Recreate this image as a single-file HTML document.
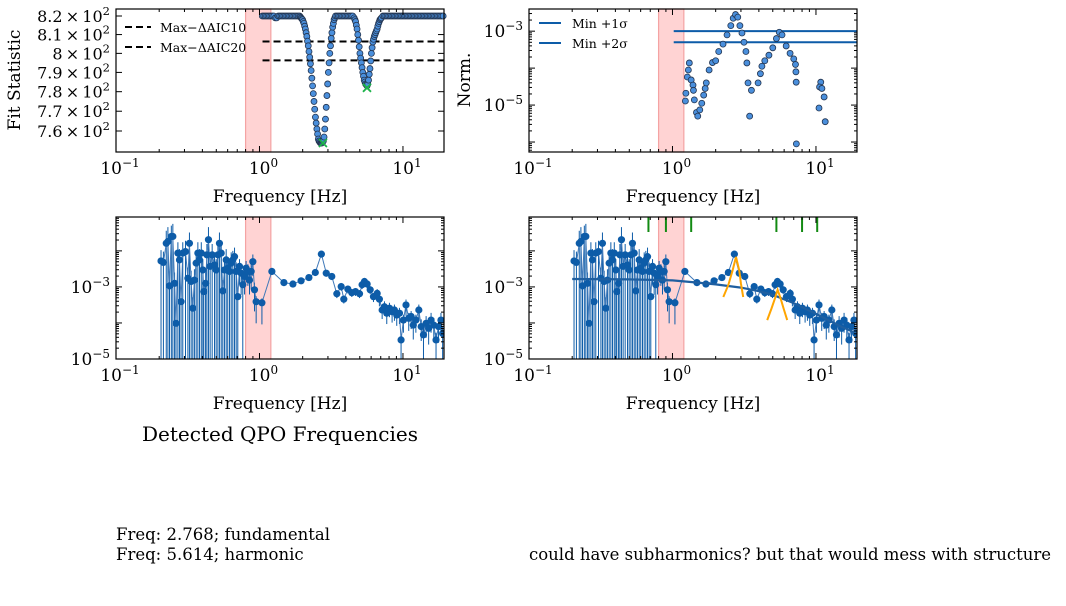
<!DOCTYPE html>
<html><head><meta charset="utf-8">
<style>
body{margin:0;background:#fff;width:1066px;height:602px;overflow:hidden;font-family:"DejaVu Serif","Liberation Serif",serif;}
svg text{font-family:"DejaVu Serif","Liberation Serif",serif;fill:#000;}
</style></head>
<body>
<svg id="fig" width="1066" height="602" viewBox="0 0 1066 602" xmlns="http://www.w3.org/2000/svg">
<text x="280" y="441" font-size="20" text-anchor="middle">Detected QPO Frequencies</text>
<text x="116" y="540" font-size="16.5">Freq: 2.768; fundamental</text>
<text x="116" y="560" font-size="16.5">Freq: 5.614; harmonic</text>
<text x="529" y="560" font-size="16.5">could have subharmonics? but that would mess with structure</text>
</svg>
<script>
// ---- Panel 1: fit statistic ----
const fitLogFreq=[0.02,0.03,0.04,0.05,0.06,0.07,0.08,0.09,0.10,0.11,0.12,0.13,0.14,0.15,0.16,0.17,0.18,0.19,0.20,0.21,0.22,0.23,0.24,0.25,0.26,0.27,
0.28,0.285,0.29,0.295,0.30,0.305,0.31,0.315,0.32,0.325,0.33,0.335,0.34,0.345,0.35,0.355,0.36,0.365,0.37,0.375,0.38,0.385,0.39,0.395,0.40,0.405,0.41,0.415,0.42,0.425,0.43,0.435,0.44,0.445,0.45,0.455,0.46,0.465,0.47,0.475,0.48,0.485,0.49,0.495,0.50,0.505,0.51,0.515,0.52,0.525,0.53,
0.54,0.55,0.56,0.57,0.58,0.59,0.60,0.61,0.62,0.63,0.64,0.65,
0.66,0.665,0.67,0.675,0.68,0.685,0.69,0.695,0.70,0.705,0.71,0.715,0.72,0.725,0.73,0.735,0.74,0.745,0.75,0.755,0.76,0.765,0.77,0.775,0.78,0.785,0.79,0.795,0.80,0.805,0.81,0.815,0.82,0.825,0.83,0.835,0.84,0.845,0.85,
0.86,0.87,0.88,0.89,0.90,0.91,0.92,0.93,0.94,0.95,0.96,0.97,0.98,0.99,1.00,1.01,1.02,1.03,1.04,1.05,1.06,1.07,1.08,1.09,1.10,1.11,1.12,1.13,1.14,1.15,1.16,1.17,1.18,1.19,1.20,1.21,1.22,1.23,1.24,1.25,1.26,1.27,1.28];
const fitValues=[820,820,820,820,820,820,820,820,820,819,819,820,820,820,820,820,820,820,820,820,820,820,820,820,820,820,
820,819.5,819,818.5,818,817,816,814.5,813,811,809,806.5,804,801,798,794.5,791,787,783,779,775,771,767,764,761,758.5,756,755,754.5,754,754,754,754.5,755,757,761,766,772,778,784,790,795,800,804,808,811,814,816,818,819,820,
820,820,820,820,820,820,820,820,820,820,820,820,
819,818,817,815,813,810,807,803.5,800,797.5,795,792.5,790,788,786,785,784,783.5,783,784,786,789,792,796,800,803,806,807.5,809,810,811,812,813,814.5,816,817,818,818.5,819,
820,820,820,820,820,820,820,820,820,820,820,820,820,820,820,820,820,820,820,820,820,820,820,820,820,820,820,820,820,820,820,820,820,820,820,820,820,820,820,820,820,820,820];
const fitMinFreq=[2.768,5.614];
const fitMinVal=[754,782];
const aicLevels=[806.3,796.3];
const fitTicks=[820,810,800,790,780,770,760];
const fitTickLabels=["8.2","8.1","8","7.9","7.8","7.7","7.6"];
// ---- Panel 2: normalised ----
const normFreq=[1.23,1.24,1.27,1.29,1.31,1.35,1.39,1.40,1.42,1.47,1.50,1.55,1.60,1.65,1.69,1.72,1.80,1.90,2.00,2.10,2.25,2.40,2.55,2.65,2.75,2.85,2.95,3.05,3.15,3.25,3.30,3.36,3.45,3.55,3.95,4.10,4.20,4.40,4.70,5.00,5.30,5.55,5.80,6.20,6.60,7.00,7.20,7.25,7.28,7.30,10.8,10.6,11.0,11.4,10.5,11.6];
const normValues=[-4.89,-4.68,-4.24,-4.05,-3.86,-4.32,-4.46,-4.60,-4.86,-5.20,-5.30,-5.13,-4.95,-4.73,-4.55,-4.40,-4.05,-3.85,-3.80,-3.55,-3.35,-3.10,-2.85,-2.65,-2.55,-2.62,-2.85,-3.05,-3.30,-3.55,-3.86,-4.40,-5.30,-4.60,-4.40,-4.15,-3.95,-3.80,-3.65,-3.45,-3.20,-3.03,-3.10,-3.40,-3.60,-3.75,-3.90,-4.10,-4.38,-6.05,-4.38,-4.51,-4.55,-4.78,-5.08,-5.45];
const sigmaLevels=[-3.0,-3.3];
// ---- Panels 3/4: power spectrum ----
const psFreq=[0.206,0.214,0.224,0.230,0.236,0.243,0.249,0.256,0.262,0.270,0.277,0.284,0.292,0.305,0.317,0.325,0.334,0.343,0.352,0.362,0.372,0.382,0.393,0.403,0.409,0.421,0.430,0.441,0.453,0.468,0.486,0.499,0.513,0.526,0.541,0.555,0.570,0.586,0.601,0.618,0.635,0.652,0.670,0.688,0.706,0.726,0.745,0.765,0.787,0.807,0.830,0.852,0.875,0.899,0.923,0.948,1.04,1.22,1.48,1.71,1.95,2.21,2.45,2.70,2.92,3.19,3.46,3.71,3.87,4.13,4.40,4.67,4.98,5.19,5.39,5.63,5.91,6.23,6.61,6.85,7.16,7.43,7.71,8.05,8.40,8.72,9.05,9.45,9.70,10.07,10.5,10.97,11.4,11.8,12.3,12.9,13.4,13.9,14.5,15.1,15.7,16.4,17.0,17.7,18.4,18.9];
const psValues=[-2.28,-2.32,-1.79,-1.74,-2.97,-1.60,-1.60,-2.90,-4.01,-2.06,-2.25,-3.41,-2.06,-2.02,-2.76,-1.79,-2.85,-3.59,-2.81,-2.34,-2.06,-2.25,-2.06,-2.53,-3.13,-2.90,-2.11,-1.69,-2.43,-2.11,-2.39,-2.53,-2.11,-1.79,-2.06,-3.11,-2.53,-2.25,-2.48,-2.57,-2.34,-2.25,-2.16,-2.57,-3.27,-2.43,-2.62,-2.94,-2.71,-2.48,-2.57,-2.81,-2.57,-2.30,-3.08,-3.41,-3.44,-2.57,-2.88,-2.92,-2.83,-2.74,-2.60,-2.09,-2.62,-2.71,-3.19,-2.99,-3.34,-3.06,-3.16,-3.13,-3.19,-2.94,-2.85,-2.92,-3.08,-3.27,-3.18,-3.34,-3.64,-3.55,-3.73,-3.59,-3.69,-3.64,-3.78,-3.73,-4.47,-3.92,-3.50,-3.87,-3.82,-4.06,-3.92,-3.64,-4.10,-4.33,-4.01,-4.15,-3.92,-4.06,-4.47,-4.10,-3.92,-4.29];
const psErrUp=[0.3,0.3,0.35,0.4,0.3,0.3,0.35,0.3,0.4,0.3,0.3,0.3,0.3,0.3,0.3,0.3,0.3,0.3,0.3,0.3,0.3,0.3,0.3,0.3,0.3,0.3,0.3,0.35,0.3,0.3,0.3,0.3,0.3,0.3,0.3,0.3,0.3,0.3,0.3,0.3,0.3,0.25,0.25,0.25,0.25,0.2,0.2,0.2,0.2,0.2,0.2,0.2,0.2,0.2,0.2,0.15,0.12,0.1,0.08,0.08,0.08,0.08,0.08,0.08,0.08,0.08,0.1,0.1,0.1,0.1,0.1,0.1,0.1,0.1,0.1,0.1,0.1,0.1,0.12,0.12,0.15,0.15,0.15,0.15,0.15,0.15,0.15,0.15,0.15,0.15,0.15,0.15,0.15,0.15,0.15,0.15,0.2,0.2,0.2,0.2,0.2,0.2,0.2,0.2,0.2,0.2];
const psErrLo=[9,9,9,9,9,9,9,9,9,9,9,9,9,9,9,9,9,9,9,9,9,9,9,9,9,9,9,9,9,9,9,9,9,9,9,9,9,9,9,9,9,9,9,9,9,0.5,0.6,9,0.5,0.4,0.4,0.4,0.5,0.4,0.6,0.6,0.6,0.1,0.08,0.08,0.08,0.08,0.08,0.08,0.08,0.08,0.12,0.12,0.12,0.12,0.12,0.12,0.12,0.12,0.12,0.12,0.12,0.15,0.15,0.2,0.25,0.25,0.3,0.25,0.3,0.3,0.3,0.3,9,0.35,0.3,0.35,0.35,0.4,0.35,0.3,0.4,9,0.4,0.45,0.35,0.4,9,0.45,0.35,9];
const modelFreq=[0.2,0.5,1,1.5,2,3,4,5,7,10,15,19.5];
const modelValues=[-2.78,-2.79,-2.82,-2.88,-2.93,-3.02,-3.12,-3.22,-3.45,-3.75,-4.1,-4.3];
const lor1Freq=[2.26,2.45,2.62,2.77,2.92,3.0,3.11];
const lor1Values=[-3.28,-2.95,-2.55,-2.17,-2.55,-2.9,-3.28];
const lor2Freq=[4.57,4.9,5.2,5.4,5.65,5.95,6.3];
const lor2Values=[-3.92,-3.6,-3.3,-3.08,-3.3,-3.6,-3.92];
const candFreq=[0.68,0.90,1.35,5.3,8.0,10.2];
const bandLo=0.8, bandHi=1.2;

const NS="http://www.w3.org/2000/svg";
const fig=document.getElementById('fig');
function mk(tag,attrs,parent){const e=document.createElementNS(NS,tag);for(const k in attrs)e.setAttribute(k,attrs[k]);(parent||fig).appendChild(e);return e;}
function xScale(p){return f=>p.x0+(Math.log10(f)+1)/2.286*(p.x1-p.x0);}
function yLogScale(p,lo,hi){return v=>p.y1-(v-lo)/(hi-lo)*(p.y1-p.y0);}

function frame(p,name){
  const g=mk('g',{});
  
  
  const X=xScale(p);
  const band=mk('rect',{x:X(bandLo),y:p.y0,width:X(bandHi)-X(bandLo),height:p.y1-p.y0,fill:'#ffd3d3',stroke:'#f4a3a3','stroke-width':1.2},g);
  
  
  p.g=g;p.X=X;return g;
}
function xAxis(p){
  const g=p.g,X=p.X;
  for(let d=-1;d<=1;d++){
    for(let m=1;m<10;m++){
      const f=m*Math.pow(10,d);const x=X(f);if(x>p.x1+0.5)continue;
      const L=m==1?6:3;
      mk('line',{x1:x,x2:x,y1:p.y1,y2:p.y1-L,stroke:'#000','stroke-width':1},g);
      mk('line',{x1:x,x2:x,y1:p.y0,y2:p.y0+L,stroke:'#000','stroke-width':1},g);
    }
    const t=mk('text',{x:X(Math.pow(10,d))+4,y:p.y1+22,'font-size':17,'text-anchor':'middle'},g);
    
    
    t.innerHTML='10<tspan dy="-7" font-size="12">'+(d<0?'−1':d)+'</tspan>';
  }
  const lab=mk('text',{x:(p.x0+p.x1)/2,y:p.y1+50,'font-size':17,'text-anchor':'middle'},g);
  
  
  lab.textContent='Frequency [Hz]';
}
function border(p){mk('rect',{x:p.x0,y:p.y0,width:p.x1-p.x0,height:p.y1-p.y0,fill:'none',stroke:'#000','stroke-width':1.2},p.g);}
function yLogTicks(p,Y,lo,hi,labels){
  for(let d=Math.floor(lo);d<=Math.ceil(hi);d++){
    for(let m=1;m<10;m++){
      const v=d+Math.log10(m);if(v<lo||v>hi)continue;const y=Y(v);const L=m==1?6:3;
      mk('line',{x1:p.x0,x2:p.x0+L,y1:y,y2:y,stroke:'#000','stroke-width':1},p.g);
      mk('line',{x1:p.x1,x2:p.x1-L,y1:y,y2:y,stroke:'#000','stroke-width':1},p.g);
    }
  }
  labels.forEach(d=>{const t=mk('text',{x:p.x0-6,y:Y(d)+6,'font-size':17,'text-anchor':'end'},p.g);
    
    
    t.innerHTML='10<tspan dy="-7" font-size="12">−'+(-d)+'</tspan>';});
}
function polyline(pts,attrs,g){return mk('polyline',Object.assign({points:pts.map(q=>q[0].toFixed(1)+','+q[1].toFixed(1)).join(' '),fill:'none'},attrs),g);}

// ===== Panel 1 =====
const p1={x0:116,y0:9,x1:444,y1:152};frame(p1,'fit-statistic-panel');
const Y1=v=>16+(Math.log10(820)-Math.log10(v))/(Math.log10(820)-Math.log10(760))*115;
fitTicks.forEach((v,i)=>{const y=Y1(v);
  mk('line',{x1:p1.x0,x2:p1.x0+6,y1:y,y2:y,stroke:'#000'},p1.g);mk('line',{x1:p1.x1,x2:p1.x1-6,y1:y,y2:y,stroke:'#000'},p1.g);
  const t=mk('text',{x:p1.x0-6,y:y+6,'font-size':16,'text-anchor':'end'},p1.g);
  
  
  t.innerHTML=fitTickLabels[i]+'\u2009×\u200910<tspan dy="-7" font-size="11.5">2</tspan>';});
aicLevels.forEach((v,i)=>{const l=mk('line',{x1:p1.X(1.05),x2:p1.x1,y1:Y1(v),y2:Y1(v),stroke:'#000','stroke-width':2,'stroke-dasharray':'7,4'},p1.g);
  
  });
fitLogFreq.forEach((lf,i)=>{const c=mk('circle',{cx:p1.X(Math.pow(10,lf)),cy:Y1(fitValues[i]),r:3,fill:'#4a8fdc',stroke:'#23344f','stroke-width':0.8},p1.g);
  
  });
fitMinFreq.forEach((f,i)=>{const x=p1.X(f),y=Y1(fitMinVal[i]);
  const m=mk('path',{d:`M${x-4},${y-4}L${x+4},${y+4}M${x-4},${y+4}L${x+4},${y-4}`,stroke:'#1db34a','stroke-width':1.8},p1.g);
  
  });
xAxis(p1);border(p1);
[['Max−ΔAIC10',27],['Max−ΔAIC20',47]].forEach(([s,y])=>{
  mk('line',{x1:125,x2:151,y1:y,y2:y,stroke:'#000','stroke-width':2,'stroke-dasharray':'7,4'},p1.g);
  const t=mk('text',{x:160,y:y+5,'font-size':12.5},p1.g);
  
  
  t.textContent=s;});
{const t=mk('text',{x:20,y:80,'font-size':17,'text-anchor':'middle',transform:'rotate(-90 20 80)'});
 
 
 t.textContent='Fit Statistic';}

// ===== Panel 2 =====
const p2={x0:529,y0:9,x1:857,y1:152};frame(p2,'norm-panel');
const lo2=-6.27,hi2=-2.4;const Y2=yLogScale(p2,lo2,hi2);
yLogTicks(p2,Y2,lo2,hi2,[-3,-5]);
sigmaLevels.forEach(v=>{const l=mk('line',{x1:p2.X(1.02),x2:p2.x1,y1:Y2(v),y2:Y2(v),stroke:'#0d5ca8','stroke-width':2},p2.g);
  
  });
normFreq.forEach((f,i)=>{const c=mk('circle',{cx:p2.X(f),cy:Y2(normValues[i]),r:3,fill:'#4a8fdc',stroke:'#23344f','stroke-width':0.8},p2.g);
  
  });
xAxis(p2);border(p2);
[['Min +1σ',27],['Min +2σ',47]].forEach(([s,y])=>{
  mk('line',{x1:539,x2:561,y1:y-4,y2:y-4,stroke:'#0d5ca8','stroke-width':2},p2.g);
  const t=mk('text',{x:572,y:y+1,'font-size':12.5},p2.g);
  
  
  t.textContent=s;});
{const t=mk('text',{x:470,y:80,'font-size':17,'text-anchor':'middle',transform:'rotate(-90 470 80)'});
 
 
 t.textContent='Norm.';}

// ===== Panels 3 & 4 =====
function spectrum(p,name,withModel){
  frame(p,name);
  const lo=-5,hi=-1.06;const Y=yLogScale(p,lo,hi);
  const clip='clip'+name;const cp=mk('clipPath',{id:clip},p.g);mk('rect',{x:p.x0,y:p.y0,width:p.x1-p.x0,height:p.y1-p.y0},cp);
  const g=mk('g',{'clip-path':`url(#${clip})`},p.g);
  if(withModel){candFreq.forEach(f=>{const l=mk('line',{x1:p.X(f),x2:p.X(f),y1:p.y0,y2:p.y0+15,stroke:'#138a13','stroke-width':2},g);
    
    });}
  psFreq.forEach((f,i)=>{const x=p.X(f);const v=psValues[i];
    const e=mk('line',{x1:x,x2:x,y1:Y(v+psErrUp[i]),y2:Y(Math.max(v-psErrLo[i],lo-1)),stroke:'#0d5ca8','stroke-width':1},g);
    
    });
  const ln=polyline(psFreq.map((f,i)=>[p.X(f),Y(psValues[i])]),{stroke:'#3f78b8','stroke-width':1},g);
  
  
  psFreq.forEach((f,i)=>{const c=mk('circle',{cx:p.X(f),cy:Y(psValues[i]),r:3.6,fill:'#0d5ca8'},g);
    
    });
  if(withModel){
    const m=polyline(modelFreq.map((f,i)=>[p.X(f),Y(modelValues[i])]),{stroke:'#1f5fa0','stroke-width':2.2},g);
    
    
    const a=polyline(lor1Freq.map((f,i)=>[p.X(f),Y(lor1Values[i])]),{stroke:'#ffa500','stroke-width':2},g);
    
    
    const b=polyline(lor2Freq.map((f,i)=>[p.X(f),Y(lor2Values[i])]),{stroke:'#ffa500','stroke-width':2},g);
    
    
  }
  yLogTicks(p,Y,lo,hi,[-3,-5]);xAxis(p);border(p);
}
spectrum({x0:116,y0:217,x1:444,y1:359},'power-spectrum-panel',false);
spectrum({x0:529,y0:217,x1:857,y1:359},'model-fit-panel',true);
</script>
</body></html>
